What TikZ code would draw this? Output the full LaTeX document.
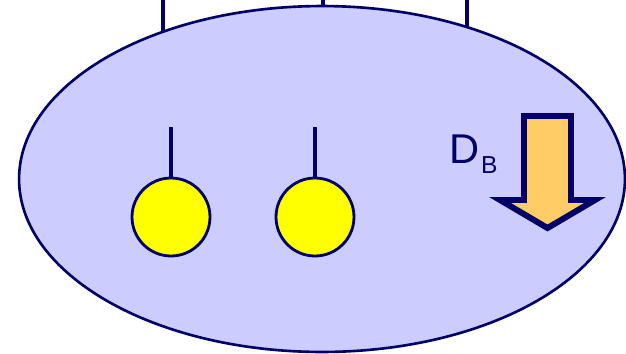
\documentclass[tikz,border=0pt]{standalone}
\usepackage{fontspec}
\setmainfont{Liberation Sans}
\usepackage{tikz}
\usetikzlibrary{arrows.meta,calc,positioning,shapes.geometric}
\definecolor{navy}{HTML}{000066}
\definecolor{cellfill}{HTML}{CCCCFF}
\definecolor{ballfill}{HTML}{FFFF00}
\definecolor{flow}{HTML}{FFCC66}

\begin{document}
\begin{tikzpicture}[x=0.02cm,y=-0.02cm,>=Stealth,font=\small,
  wire/.style={navy,line width=2pt},
  ball/.style={circle,draw=navy,line width=1.6pt,fill=ballfill,minimum size=1.56cm,inner sep=0pt}]
\useasboundingbox (0,0) rectangle (626,353);
\node[ellipse,draw=navy,line width=1.5pt,fill=cellfill,minimum width=12.12cm,minimum height=6.92cm,inner sep=0pt] (cell) at (322,179) {};
% leads out through the top
\coordinate (t1) at (163,0);
\coordinate (t2) at (323,0);
\coordinate (t3) at (467,0);
\draw[wire] (t1) -- (t1 |- cell.137);
\draw[wire] (t2) -- (t2 |- cell.north);
\draw[wire] (t3) -- (t3 |- cell.46);
% the two balls on their stems
\node[ball] (b1) at (171,217) {};
\node[ball] (b2) at (315,217) {};
\coordinate (s1) at (171,127);
\coordinate (s2) at (315,127);
\draw[wire] (s1) -- (b1.north);
\draw[wire] (s2) -- (b2.north);
% block arrow
\draw[navy,fill=flow,line width=3.4pt,line join=miter]
  (524,116) -- (571,116) -- (571,200) -- (595,200) -- (547.5,228) -- (500,200) -- (524,200) -- cycle;
\node[text=navy,anchor=base west,inner sep=0pt,font=\fontsize{23.7}{26}\selectfont] (db) at (449,163)
  {D\kern1pt\raisebox{-5.7pt}{\fontsize{14}{16}\selectfont B}};
\end{tikzpicture}
\end{document}
